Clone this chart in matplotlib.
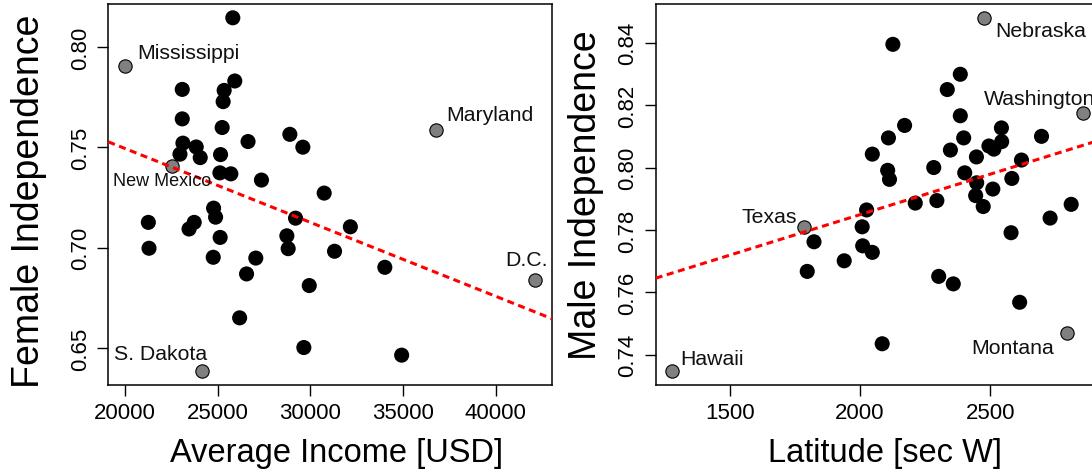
import matplotlib
matplotlib.use("Agg")
import matplotlib.pyplot as plt
import numpy as np

plt.rcParams['font.family'] = ['Liberation Sans', 'DejaVu Sans']

# ---------------- Left panel data: income vs female independence ----------------
income = [25811, 25918, 25345, 25290, 23084, 23084, 25237, 26633, 28889, 29590,
          23120, 23838, 22960, 24053, 25150, 25115, 25706, 27357, 30741, 21255,
          21291, 23729, 23450, 24774, 24882, 25128, 24755, 27052, 26553, 29195,
          28727, 28798, 31300, 29936, 26180, 29644, 32153, 34013, 34921]
female_indep = [0.8146, 0.7831, 0.7784, 0.7728, 0.7789, 0.7642, 0.7599, 0.7529, 0.7565, 0.7501,
                0.7521, 0.7502, 0.7466, 0.7449, 0.7464, 0.7373, 0.7368, 0.7337, 0.7272, 0.7126,
                0.6997, 0.7126, 0.7093, 0.7197, 0.7152, 0.7051, 0.6952, 0.6948, 0.6869, 0.7147,
                0.7059, 0.6995, 0.6982, 0.6811, 0.6650, 0.6502, 0.7104, 0.6902, 0.6464]
left_names = ["Mississippi", "Maryland", "New Mexico", "D.C.", "S. Dakota"]
left_lab_x = [19980, 36788, 22512, 42130, 24127]
left_lab_y = [0.7905, 0.7585, 0.7405, 0.6839, 0.6387]
left_fit = (0.8231, -3.684e-6)   # intercept, slope

# ---------------- Right panel data: latitude vs male independence ----------------
latitude = [2126, 2385, 2335, 2385, 2171, 2109, 2398, 2543, 2544, 2495,
            2514, 2697, 2047, 2347, 2447, 2620, 2283, 2106, 2113, 2402,
            2448, 2583, 2510, 2444, 2212, 2295, 2473, 2730, 2811, 2580,
            2047, 2302, 2358, 2613, 2085, 2025, 2008, 1823, 2010, 1939, 1797]
male_indep = [0.8395, 0.8299, 0.8250, 0.8166, 0.8135, 0.8095, 0.8095, 0.8127, 0.8083, 0.8069,
              0.8059, 0.8100, 0.8043, 0.8056, 0.8034, 0.8024, 0.8000, 0.7991, 0.7962, 0.7983,
              0.7951, 0.7965, 0.7931, 0.7910, 0.7886, 0.7894, 0.7875, 0.7838, 0.7882, 0.7791,
              0.7728, 0.7651, 0.7627, 0.7568, 0.7435, 0.7864, 0.7810, 0.7762, 0.7749, 0.7701, 0.7667]
right_names = ["Nebraska", "Washington", "Texas", "Hawaii", "Montana"]
right_lab_x = [2476, 2857, 1784, 1278, 2795]
right_lab_y = [0.8480, 0.8175, 0.7810, 0.7349, 0.7470]
right_fit = (0.7330, 2.595e-5)

left_xticks = [20000, 25000, 30000, 35000, 40000]
left_yticks = [0.65, 0.70, 0.75, 0.80]
right_xticks = [1500, 2000, 2500]
right_yticks = [0.74, 0.76, 0.78, 0.80, 0.82, 0.84]

# label placement (pixel offsets from point, alignment, font size)
left_lab_style = [(13, 8, 'left', 15.3), (10, 10, 'left', 15.3), (-10, -19, 'center', 13.0),
                  (-9, 15, 'center', 15.3), (-41, 12, 'center', 15.3)]
right_lab_style = [(11, -18, 'left', 15.3), (-99, 9, 'left', 15.3), (-7, 5, 'right', 15.3),
                   (8, 7, 'left', 15.3), (-13, -20, 'right', 15.3)]

W, H = 1092, 477
fig = plt.figure(figsize=(W / 100, H / 100), dpi=100)


def axes_px(x0, x1, y0, y1):
    return fig.add_axes([x0 / W, 1 - y1 / H, (x1 - x0) / W, (y1 - y0) / H])


def r_lim(vals):
    lo, hi = min(vals), max(vals)
    r = hi - lo
    return lo - 0.04 * r, hi + 0.04 * r


def panel(ax, x, y, lx, ly, names, styles, fit, xticks, yticks, xlabel, ylabel,
          xl_off, yl_off):
    ax.scatter(x, y, s=118, c='black', edgecolors='none', zorder=2)
    ax.scatter(lx, ly, s=92, c='#808080', edgecolors='black', linewidths=0.8, zorder=2)
    for n, px, py, (dx, dy, ha, fs) in zip(names, lx, ly, styles):
        ax.annotate(n, (px, py), xytext=(dx, dy), textcoords='offset pixels',
                    ha=ha, va='baseline', fontsize=fs, color='#111111',
                    annotation_clip=False, zorder=4)
    ax.axline((0, fit[0]), slope=fit[1], color='#ff0000', lw=2.2,
              dashes=(2.3, 1.5), zorder=3)
    ax.set_xlim(*r_lim(list(x) + list(lx)))
    ax.set_ylim(*r_lim(list(y) + list(ly)))
    ax.set_xticks(xticks)
    ax.set_yticks(yticks)
    ax.set_yticklabels([f"{v:.2f}" for v in yticks])
    ax.set_xticklabels([str(v) for v in xticks])
    ax.tick_params(direction='out', length=7.7, width=1.0, labelsize=16, pad=5,
                   colors='black')
    for lab in ax.get_yticklabels():
        lab.set_rotation(90)
        lab.set_va('center')
    for s in ax.spines.values():
        s.set_linewidth(1.1)
    ax.set_xlabel(xlabel, fontsize=23.5)
    ax.set_ylabel(ylabel, fontsize=27)
    ax.xaxis.set_label_coords(*xl_off)
    ax.yaxis.set_label_coords(*yl_off)


ax1 = axes_px(108.3, 551.7, 4.7, 385.7)
ax2 = axes_px(655.7, 1099.6, 4.7, 385.7)

panel(ax1, income, female_indep, left_lab_x, left_lab_y, left_names, left_lab_style,
      left_fit, left_xticks, left_yticks, "Average Income [USD]", "Female Independence",
      (0.5 + 7 / 443.4, -0.136), (-0.138, 0.5 - 6 / 381))
panel(ax2, latitude, male_indep, right_lab_x, right_lab_y, right_names, right_lab_style,
      right_fit, right_xticks, right_yticks, "Latitude [sec W]", "Male Independence",
      (0.5 + 7 / 443.9, -0.136), (-0.1174, 0.5))

fig.savefig("out.png", dpi=100)
